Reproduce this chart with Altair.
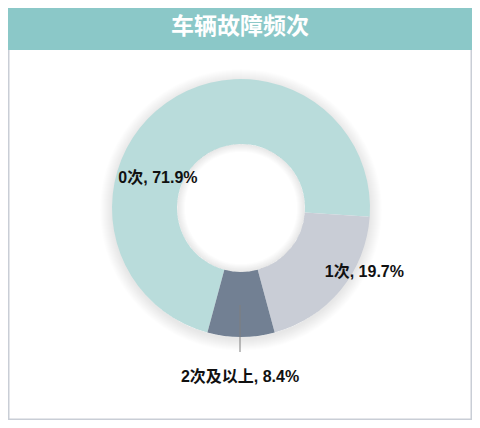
import math
import altair as alt
import pandas as pd

TITLE = ["车辆故障频次"]
categories = ["0次", "1次", "2次及以上"]
shares = [71.9, 19.7, 8.4]
labels = ["0次, 71.9%", "1次, 19.7%", "2次及以上, 8.4%"]
colors = ["#b9dcdb", "#c9cdd6", "#728093"]

W, H = 464, 412
CX, CY = 233, 200
R_OUT, R_IN = 129, 64
START = math.radians(195.1)
FONT = "Liberation Sans, Noto Sans CJK SC"

df = pd.DataFrame({"cat": categories, "share": shares, "label": labels,
                   "idx": list(range(len(categories)))})
one = pd.DataFrame({"title": TITLE})

theta = alt.Theta("share:Q", stack=True,
                  scale=alt.Scale(range=[START, START + 2 * math.pi]))
order = alt.Order("idx:Q")
base = alt.Chart(df)

# soft shadow around the donut
shadow_layers = []
for k in range(1, 13):
    shadow_layers.append(
        alt.Chart(one).mark_arc(theta=0, theta2=2 * math.pi, innerRadius=R_OUT - 2,
                                outerRadius=R_OUT + k, color="#000000", opacity=0.007)
        .encode(x=alt.value(CX), y=alt.value(CY + 2))
    )

donut = base.mark_arc(innerRadius=R_IN, outerRadius=R_OUT).encode(
    theta=theta, order=order,
    color=alt.Color("cat:N", scale=alt.Scale(domain=categories, range=colors), legend=None),
    x=alt.value(CX), y=alt.value(CY),
)

inner_shadow = []
for k in range(1, 9):
    inner_shadow.append(
        alt.Chart(one).mark_arc(theta=0, theta2=2 * math.pi, innerRadius=R_IN - k,
                                outerRadius=R_IN, color="#000000", opacity=0.01)
        .encode(x=alt.value(CX), y=alt.value(CY))
    )

def label_layer(i, radius, dx, dy):
    return base.mark_text(radius=radius, dx=dx, dy=dy, font=FONT, fontSize=16,
                          fontWeight="bold", color="#111111", baseline="middle").encode(
        theta=theta, order=order, text="label:N", x=alt.value(CX), y=alt.value(CY),
        opacity=alt.condition(alt.datum.cat == categories[i], alt.value(1), alt.value(0)))

lbl0 = label_layer(0, 88, -32, 42)
lbl1 = label_layer(1, 139, 16, -24)
lbl2 = label_layer(2, 169, -1, 0)

leader = alt.Chart(one).mark_rule(color="#7f7f7f", strokeWidth=1).encode(
    x=alt.value(CX - 1), y=alt.value(CY + 97), y2=alt.value(CY + 144))

title_bar = alt.Chart(one).mark_rect(color="#8bc8c8").encode(
    x=alt.value(0), x2=alt.value(W), y=alt.value(0), y2=alt.value(42))
title_txt = alt.Chart(one).mark_text(
    font="Noto Sans CJK SC", fontSize=23, fontWeight="bold", color="#ffffff",
    align="center", baseline="middle").encode(
    text="title:N", x=alt.value(W / 2), y=alt.value(19))

chart = alt.layer(
    *shadow_layers, donut, *inner_shadow, leader, lbl0, lbl1, lbl2, title_bar, title_txt
).properties(
    width=W, height=H, padding=0, autosize=alt.AutoSizeParams(type="none"),
    background="#ffffff",
).configure_view(stroke="#c9ced6", strokeWidth=3)

chart.save("out.html", embed_options={"renderer": "svg", "actions": False})
